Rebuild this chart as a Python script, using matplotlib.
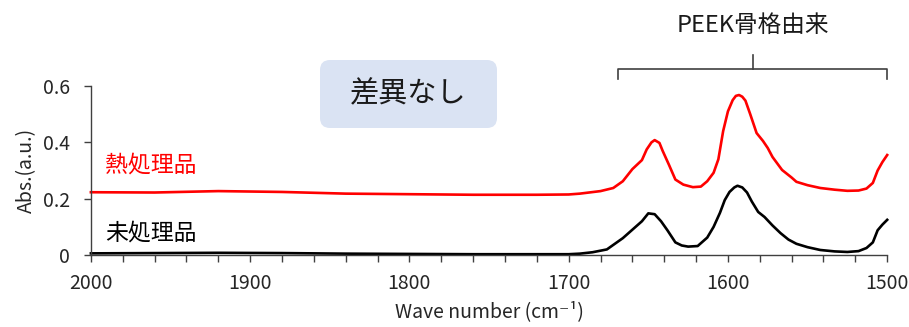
import matplotlib
matplotlib.use("Agg")
import matplotlib.pyplot as plt
from matplotlib.patches import FancyBboxPatch
from matplotlib.ticker import MultipleLocator

plt.rcParams['font.family'] = ['Noto Sans CJK JP', 'DejaVu Sans']

# Wavenumber (cm-1) and absorbance for each sample
wn_heat = [2000, 1960, 1920, 1880, 1840, 1800, 1760, 1720, 1700, 1693, 1680, 1672, 1666,
           1660, 1654, 1651, 1648, 1646, 1643, 1641, 1637, 1633, 1628, 1622, 1617, 1613,
           1609, 1606, 1603, 1600, 1597, 1595, 1593, 1591, 1589, 1586, 1582, 1578, 1575,
           1572, 1566, 1560, 1557, 1550, 1542, 1533, 1525, 1518, 1513, 1509, 1506, 1503, 1500]
abs_heat = [0.223, 0.222, 0.227, 0.224, 0.218, 0.216, 0.214, 0.214, 0.215, 0.218, 0.227,
            0.238, 0.262, 0.305, 0.337, 0.375, 0.400, 0.408, 0.398, 0.370, 0.320, 0.268,
            0.250, 0.241, 0.243, 0.262, 0.292, 0.340, 0.440, 0.510, 0.550, 0.565, 0.568,
            0.562, 0.548, 0.500, 0.433, 0.405, 0.380, 0.348, 0.302, 0.275, 0.260, 0.248,
            0.238, 0.232, 0.228, 0.229, 0.236, 0.256, 0.300, 0.330, 0.355]

wn_raw = [2000, 1960, 1920, 1880, 1840, 1800, 1760, 1720, 1700, 1693, 1685, 1676, 1666,
          1658, 1654, 1650, 1646, 1642, 1638, 1633, 1629, 1625, 1619, 1613, 1609, 1605,
          1602, 1599, 1596, 1594, 1591, 1588, 1585, 1581, 1577, 1572, 1567, 1562, 1557,
          1550, 1542, 1533, 1525, 1518, 1513, 1509, 1506, 1503, 1500]
abs_raw = [0.006, 0.007, 0.008, 0.007, 0.005, 0.004, 0.003, 0.003, 0.003, 0.005, 0.010,
           0.020, 0.060, 0.100, 0.120, 0.148, 0.145, 0.120, 0.088, 0.045, 0.034, 0.030,
           0.032, 0.062, 0.100, 0.150, 0.195, 0.224, 0.240, 0.246, 0.240, 0.222, 0.190,
           0.153, 0.135, 0.105, 0.078, 0.055, 0.040, 0.028, 0.018, 0.013, 0.011, 0.014,
           0.025, 0.045, 0.088, 0.108, 0.125]

label_heat = "熱処理品"
label_raw = "未処理品"
note_text = "差異なし"
bracket_text = "PEEK骨格由来"
bracket_range = [1669, 1500]
y_ticks = [0, 0.2, 0.4, 0.6]
x_ticks = [2000, 1900, 1800, 1700, 1600, 1500]

fig = plt.figure(figsize=(9.09, 3.27), dpi=100)
ax = fig.add_axes([0.100, 0.220, 0.876, 0.517])

ax.plot(wn_heat, abs_heat, color='#ff0000', lw=1.9, clip_on=False)
ax.plot(wn_raw, abs_raw, color='#000000', lw=1.9, clip_on=False)

ax.set_xlim(2000, 1500)
ax.set_ylim(0, 0.6)
ax.set_xticks(x_ticks)
ax.set_yticks(y_ticks)
ax.set_yticklabels(['0', '0.2', '0.4', '0.6'])
ax.xaxis.set_minor_locator(MultipleLocator(20))

for s in ['top', 'right']:
    ax.spines[s].set_visible(False)
for s in ['left', 'bottom']:
    ax.spines[s].set_color('#404040')
    ax.spines[s].set_linewidth(1.0)
ax.tick_params(axis='both', which='both', direction='out', length=5, width=1.0,
               color='#404040', labelsize=14, labelcolor='#262626')
ax.tick_params(axis='x', pad=8)
ax.tick_params(axis='y', pad=10)

ax.set_xlabel("Wave number (cm⁻¹)", fontsize=14, color='#262626', labelpad=5)
ax.set_ylabel("Abs.(a.u.)", fontsize=14, color='#262626', labelpad=4)

ax.text(1991, 0.32, label_heat, color='#ff0000', fontsize=16.5, va='center', ha='left')
ax.text(1991, 0.08, label_raw, color='#000000', fontsize=16.5, va='center', ha='left')

# Rounded note box
box = FancyBboxPatch((3.20, 1.99), 1.77, 0.68, boxstyle="round,pad=0,rounding_size=0.1",
                     transform=fig.dpi_scale_trans, facecolor='#dae3f3', edgecolor='none')
fig.patches.append(box)
fig.text(4.085 / 9.09, 2.33 / 3.27, note_text, fontsize=21, color='#1a1a1a',
         ha='center', va='center')

# Curly bracket above the PEEK bands
x0, x1 = bracket_range
xm = (x0 + x1) / 2
ax.plot([x0, x0, x1, x1], [0.625, 0.66, 0.66, 0.625], color='#404040', lw=1.2,
        clip_on=False, solid_joinstyle='round')
ax.plot([xm, xm], [0.66, 0.71], color='#404040', lw=1.2, clip_on=False)
ax.text(xm, 0.815, bracket_text, fontsize=17, color='#1a1a1a', ha='center', va='center')

fig.savefig("out.png", dpi=100)
